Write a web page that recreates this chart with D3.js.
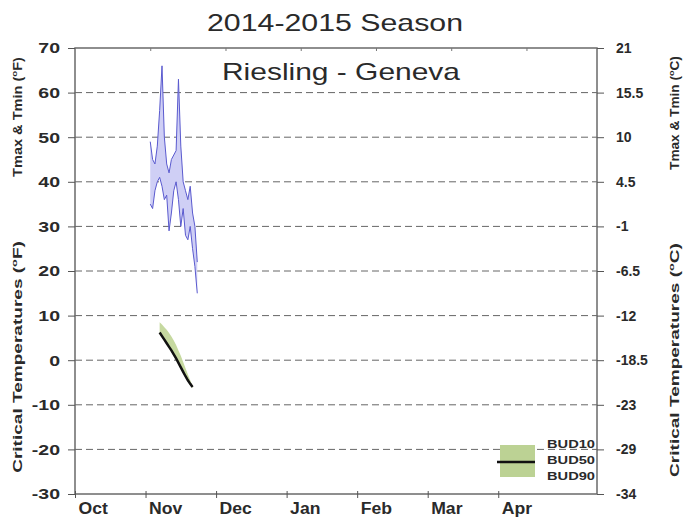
<!DOCTYPE html>
<html>
<head>
<meta charset="utf-8">
<script src="https://cdn.jsdelivr.net/npm/d3@7"></script>
<style>
body { margin: 0; background: #fff; }
text { font-family: "Liberation Sans", Arial, sans-serif; fill: #2a2a2a; }
</style>
</head>
<body>
<div id="chart"></div>
<script>
'use strict';

// x axis is days since Oct 1
const months = ['Oct', 'Nov', 'Dec', 'Jan', 'Feb', 'Mar', 'Apr'];
const monthDays = [0, 30, 60, 90, 120, 150, 180];
const topTickDays = [32, 64, 96, 128, 160, 192];
const fTicks = [70, 60, 50, 40, 30, 20, 10, 0, -10, -20, -30];
const cLabels = ['21', '15.5', '10', '4.5', '-1', '-6.5', '-12', '-18.5', '-23', '-29', '-34'];
const gridTicks = [60, 50, 40, 30, 20, 10, 0, -10, -20];

// daily air temperature (F)
const tempDays = [32, 33, 34, 35, 36, 37, 38, 39, 40, 41, 42, 43, 44, 45, 46, 47, 48, 49, 50, 51, 52];
const tmax = [49, 45, 44, 48, 56, 66, 50, 44, 42, 45, 46, 47, 63, 48, 40, 38, 36, 39, 33, 30, 22];
const tmin = [35, 34, 38, 40, 41, 39, 36, 37, 29, 33, 38, 40, 36, 30, 34, 28, 27, 30, 25, 21, 15];

// critical bud temperatures (F)
const budDays = [36, 37, 38, 39, 40, 41, 42, 43, 44, 45, 46, 47, 48, 49, 50];
const bud10 = [8.5, 8.0, 7.4, 6.8, 6.1, 5.3, 4.4, 3.4, 2.2, 1.0, -0.4, -1.8, -3.2, -4.5, -5.7];
const bud50 = [6.2, 5.4, 4.6, 3.8, 3.0, 2.2, 1.3, 0.4, -0.6, -1.6, -2.6, -3.6, -4.5, -5.3, -6.0];
const bud90 = [5.8, 5.0, 4.2, 3.4, 2.6, 1.8, 0.9, 0.0, -1.0, -2.0, -3.0, -4.0, -4.9, -5.7, -6.3];

const W = 686, H = 520;
const svg = d3.select('#chart').append('svg')
    .attr('width', W)
    .attr('height', H);

const x = d3.scaleLinear().domain([0, 222]).range([75, 597]);
const y = d3.scaleLinear().domain([-30, 70]).range([494, 48]);

function stretch(sel, k) {
    sel.each(function () {
        const w = this.getComputedTextLength();
        d3.select(this).attr('textLength', w * k).attr('lengthAdjust', 'spacingAndGlyphs');
    });
}

// grid
svg.append('g')
    .selectAll('line')
    .data(gridTicks)
    .join('line')
    .attr('x1', x(0)).attr('x2', x(222))
    .attr('y1', d => y(d)).attr('y2', d => y(d))
    .attr('stroke', '#666')
    .attr('stroke-width', 1)
    .attr('stroke-dasharray', '7,4');

// temperature band
const temps = tempDays.map((d, i) => ({day: d, hi: tmax[i], lo: tmin[i]}));
svg.append('path')
    .datum(temps)
    .attr('fill', '#cfcff5')
    .attr('d', d3.area().x(d => x(d.day)).y0(d => y(d.lo)).y1(d => y(d.hi)));
['hi', 'lo'].forEach(k => {
    svg.append('path')
        .datum(temps)
        .attr('fill', 'none')
        .attr('stroke', '#5a5acf')
        .attr('stroke-width', 1)
        .attr('d', d3.line().x(d => x(d.day)).y(d => y(d[k])));
});

// critical temperature band
const buds = budDays.map((d, i) => ({day: d, b10: bud10[i], b50: bud50[i], b90: bud90[i]}));
svg.append('path')
    .datum(buds)
    .attr('fill', '#c6d9a0')
    .attr('d', d3.area().x(d => x(d.day)).y0(d => y(d.b90)).y1(d => y(d.b10)));
svg.append('path')
    .datum(buds)
    .attr('fill', 'none')
    .attr('stroke', '#111')
    .attr('stroke-width', 2.5)
    .attr('d', d3.line().x(d => x(d.day)).y(d => y(d.b50)));

// frame
svg.append('rect')
    .attr('x', x(0)).attr('y', y(70))
    .attr('width', x(222) - x(0)).attr('height', y(-30) - y(70))
    .attr('fill', 'none')
    .attr('stroke', '#6a6a6a')
    .attr('stroke-width', 1.5);

// axes
const leftAxis = svg.append('g')
    .attr('transform', `translate(${x(0)},0)`)
    .call(d3.axisLeft(y).tickValues(fTicks).tickFormat(d => String(d)).tickSize(7).tickPadding(8));
leftAxis.select('.domain').remove();
leftAxis.selectAll('line').attr('stroke', '#555');
leftAxis.selectAll('text')
    .attr('font-size', 15).attr('font-weight', 'bold').attr('fill', '#2a2a2a')
    .call(stretch, 1.3);

const rightAxis = svg.append('g')
    .attr('transform', `translate(${x(222)},0)`)
    .call(d3.axisRight(y).tickValues(fTicks).tickFormat((d, i) => cLabels[i]).tickSize(7).tickPadding(12));
rightAxis.select('.domain').remove();
rightAxis.selectAll('line').attr('stroke', '#555');
rightAxis.selectAll('text')
    .attr('font-size', 14).attr('font-weight', 'bold').attr('fill', '#2a2a2a');

const bottomAxis = svg.append('g')
    .attr('transform', `translate(0,${y(-30)})`)
    .call(d3.axisBottom(x).tickValues(monthDays).tickSize(4).tickFormat((d, i) => months[i]));
bottomAxis.select('.domain').remove();
bottomAxis.selectAll('line').attr('stroke', '#555').attr('y1', -3);
bottomAxis.selectAll('text')
    .attr('text-anchor', 'start')
    .attr('x', 3).attr('y', 20).attr('dy', null)
    .attr('font-size', 16).attr('font-weight', 'bold').attr('fill', '#2a2a2a')
    .call(stretch, 1.1);

const topAxis = svg.append('g')
    .attr('transform', `translate(0,${y(70)})`)
    .call(d3.axisTop(x).tickValues(topTickDays).tickSize(-3).tickFormat(''));
topAxis.select('.domain').remove();
topAxis.selectAll('line').attr('stroke', '#777');

// titles
svg.append('text')
    .attr('x', 335).attr('y', 31)
    .attr('text-anchor', 'middle')
    .attr('font-size', 24)
    .attr('textLength', 256).attr('lengthAdjust', 'spacingAndGlyphs')
    .text('2014-2015 Season');

svg.append('text')
    .attr('x', 341).attr('y', 80)
    .attr('text-anchor', 'middle')
    .attr('font-size', 24)
    .attr('textLength', 238).attr('lengthAdjust', 'spacingAndGlyphs')
    .text('Riesling - Geneva');

function axisTitle(cx, cy, label, unit, len) {
    const t = svg.append('text')
        .attr('text-anchor', 'middle')
        .attr('font-size', 12)
        .attr('font-weight', 'bold');
    t.append('tspan').text(label + ' (');
    t.append('tspan').attr('font-size', 8).attr('dy', -5).text('o');
    t.append('tspan').attr('dy', 5).text(unit + ')');
    const k = len / t.node().getComputedTextLength();
    t.attr('transform', `translate(${cx},${cy}) rotate(-90) scale(${k},1)`);
}
axisTitle(22, 117, 'Tmax & Tmin', 'F', 120);
axisTitle(22, 357, 'Critical Temperatures', 'F', 232);
axisTitle(679, 113, 'Tmax & Tmin', 'C', 114);
axisTitle(679, 360, 'Critical Temperatures', 'C', 234);

// legend
const legend = svg.append('g').attr('transform', 'translate(497,445)');
legend.append('rect')
    .attr('x', 3).attr('y', 0)
    .attr('width', 35).attr('height', 32)
    .attr('fill', '#bcd294');
legend.append('line')
    .attr('x1', 0).attr('x2', 38)
    .attr('y1', 17).attr('y2', 17)
    .attr('stroke', '#111').attr('stroke-width', 2.5);
legend.selectAll('text')
    .data(['BUD10', 'BUD50', 'BUD90'])
    .join('text')
    .attr('x', 50)
    .attr('y', (d, i) => 3 + i * 16)
    .attr('font-size', 11)
    .attr('font-weight', 'bold')
    .attr('fill', '#333')
    .attr('textLength', 48).attr('lengthAdjust', 'spacingAndGlyphs')
    .text(d => d);
</script>
</body>
</html>
